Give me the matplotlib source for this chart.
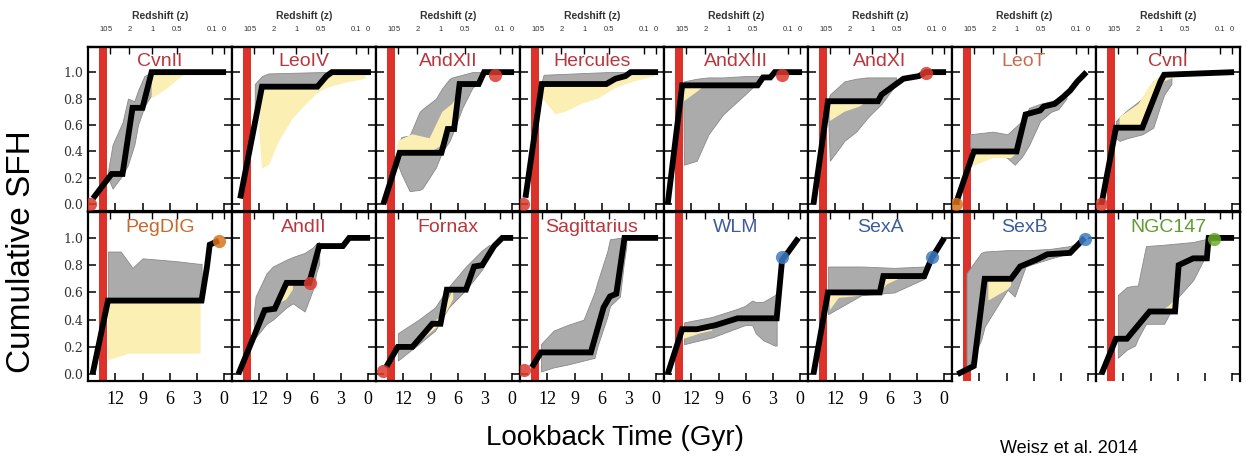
import numpy as np
import matplotlib.pyplot as plt

# galaxy names and title colours
names = ["CvnII", "LeoIV", "AndXII", "Hercules", "AndXIII", "AndXI", "LeoT", "CvnI",
         "PegDIG", "AndII", "Fornax", "Sagittarius", "WLM", "SexA", "SexB", "NGC147"]
red_t, ora_t, blu_t, grn_t = "#b9363c", "#c8682a", "#3d5c9c", "#5f9c30"
name_colors = [red_t, red_t, red_t, red_t, red_t, red_t, "#cc6a4a", red_t,
               ora_t, red_t, red_t, red_t, blu_t, blu_t, blu_t, grn_t]

# best-fit cumulative SFH (lookback time in Gyr, fraction)
best_t = [
    [14.45, 12.4, 11.2, 10.1, 9.0, 8.0, -0.2],
    [14.1, 11.7, 5.6, 4.6, 4.0, -0.3],
    [14.2, 12.4, 7.8, 7.1, 6.4, 5.8, 3.7, 3.1, -0.2],
    [14.4, 12.6, 5.5, 4.5, 3.4, 2.8, -0.2],
    [14.6, 13.0, 4.7, 4.1, 3.3, 2.8, -0.2],
    [14.4, 12.8, 7.3, 6.9, 6.1, 5.3, 4.5, 2.8, 2.0, -0.2],
    [14.6, 12.6, 7.9, 6.9, 5.3, 4.9, 3.7, 2.8, 2.0, 1.2, 0.2],
    [14.4, 12.8, 9.9, 7.9, 7.5, -0.2],
    [14.5, 12.8, 2.5, 1.9, 1.6, 0.6],
    [14.3, 11.4, 10.3, 9.0, 6.5, 5.4, 2.8, 2.1, -0.2],
    [13.9, 12.6, 11.0, 8.8, 7.9, 7.2, 5.1, 4.2, 3.3, 2.0, 1.1, -0.1],
    [13.7, 12.7, 7.2, 5.8, 5.1, 4.4, 3.5, -0.2],
    [14.6, 13.0, 11.4, 9.3, 6.9, 2.6, 2.0, 1.4, 0.2],
    [14.4, 12.8, 7.1, 6.7, 2.2, 1.4, 0.0],
    [14.4, 12.6, 11.4, 8.5, 7.5, 5.7, 4.5, 2.0, 0.4],
    [14.4, 12.8, 11.6, 9.1, 6.3, 5.9, 4.3, 2.8, 2.6, -0.2],
]
best_v = [
    [0.045, 0.23, 0.23, 0.73, 0.73, 1.0, 1.0],
    [0.045, 0.89, 0.89, 0.97, 1.0, 1.0],
    [0.0, 0.39, 0.39, 0.57, 0.57, 0.91, 0.91, 1.0, 1.0],
    [0.05, 0.91, 0.91, 0.95, 0.97, 1.0, 1.0],
    [0.0, 0.90, 0.90, 0.96, 0.96, 1.0, 1.0],
    [0.0, 0.78, 0.78, 0.83, 0.87, 0.91, 0.95, 0.97, 1.0, 1.0],
    [0.0, 0.40, 0.40, 0.68, 0.71, 0.74, 0.76, 0.81, 0.86, 0.93, 1.0],
    [0.0, 0.58, 0.58, 0.93, 0.98, 1.0],
    [0.0, 0.54, 0.54, 0.79, 0.95, 0.98],
    [0.0, 0.47, 0.48, 0.67, 0.67, 0.94, 0.94, 1.0, 1.0],
    [0.05, 0.20, 0.20, 0.37, 0.37, 0.62, 0.62, 0.79, 0.80, 0.94, 1.0, 1.0],
    [0.05, 0.16, 0.16, 0.49, 0.57, 0.59, 1.0, 1.0],
    [0.0, 0.33, 0.33, 0.36, 0.41, 0.41, 0.84, 0.89, 1.0],
    [0.0, 0.60, 0.60, 0.72, 0.72, 0.85, 1.0],
    [0.0, 0.06, 0.70, 0.70, 0.79, 0.84, 0.88, 0.89, 1.0],
    [0.0, 0.26, 0.26, 0.46, 0.46, 0.80, 0.85, 0.85, 1.0, 1.0],
]

# grey uncertainty envelope
grey_t = [
    [12.8, 12.3, 11.2, 10.6, 9.9, 9.5, 8.8, 8.0],
    [12.5, 11.7, 11.0, 5.4, 4.6],
    [12.6, 12.2, 11.3, 10.2, 9.9, 8.4, 7.7, 6.9, 6.6, 5.5, 4.4, 3.3],
    [12.6, 12.4, 5.5, 4.5, 3.0],
    [12.9, 12.8, 11.4, 10.1, 8.5, 6.1, 4.7, 4.1],
    [12.8, 12.6, 11.3, 11.0, 9.7, 8.5, 8.1, 6.9, 5.3],
    [13.0, 10.5, 8.9, 8.1, 7.3, 6.5, 5.3, 4.1, 3.3, 2.4],
    [12.8, 12.4, 11.6, 9.9, 8.7, 7.9, 7.5, 6.7],
    [12.8, 11.4, 10.1, 9.0, 5.4, 2.8, 2.5],
    [12.6, 12.4, 11.2, 10.5, 9.0, 8.3, 7.0, 6.1, 5.7, 5.4],
    [12.6, 10.3, 8.5, 7.0, 5.1, 3.3, 2.5],
    [12.7, 11.3, 9.8, 8.0, 6.8, 6.5, 5.4, 5.1, 4.0, 3.6, 3.3],
    [12.8, 9.7, 6.9, 6.1, 5.3, 4.9, 4.1, 2.8, 2.6],
    [12.8, 9.1, 5.5, 2.2, 1.6],
    [13.4, 11.8, 11.4, 8.9, 8.1, 6.9, 6.5, 4.1, 2.0, 1.0],
    [12.6, 11.6, 10.7, 10.4, 9.5, 7.5, 5.9, 4.3, 3.0, 2.6],
]
grey_lo = [
    [0.20, 0.12, 0.22, 0.30, 0.45, 0.60, 0.74, 0.83],
    [0.60, 0.89, 0.89, 0.89, 0.97],
    [0.30, 0.23, 0.10, 0.11, 0.12, 0.28, 0.40, 0.48, 0.53, 0.73, 0.88, 0.95],
    [0.91, 0.91, 0.91, 0.95, 0.98],
    [0.85, 0.30, 0.33, 0.53, 0.68, 0.83, 0.92, 0.96],
    [0.70, 0.33, 0.45, 0.48, 0.55, 0.65, 0.68, 0.76, 0.91],
    [0.43, 0.40, 0.35, 0.30, 0.36, 0.45, 0.63, 0.70, 0.72, 0.80],
    [0.50, 0.48, 0.50, 0.53, 0.58, 0.75, 0.83, 0.91],
    [0.54, 0.54, 0.54, 0.54, 0.54, 0.54, 0.54],
    [0.30, 0.27, 0.37, 0.40, 0.49, 0.52, 0.46, 0.62, 0.75, 0.81],
    [0.10, 0.22, 0.32, 0.49, 0.62, 0.77, 0.90],
    [0.02, 0.05, 0.07, 0.10, 0.12, 0.20, 0.42, 0.50, 0.57, 0.80, 0.94],
    [0.22, 0.27, 0.34, 0.36, 0.36, 0.30, 0.25, 0.21, 0.21],
    [0.44, 0.58, 0.60, 0.70, 0.82],
    [0.02, 0.25, 0.35, 0.62, 0.57, 0.79, 0.80, 0.85, 0.89, 0.95],
    [0.12, 0.18, 0.21, 0.26, 0.37, 0.37, 0.57, 0.69, 0.86, 0.95],
]
grey_hi = [
    [0.25, 0.45, 0.62, 0.80, 0.78, 0.86, 0.97, 1.0],
    [0.91, 0.97, 0.99, 1.0, 1.0],
    [0.45, 0.51, 0.52, 0.70, 0.72, 0.80, 0.88, 0.95, 0.96, 0.98, 1.0, 1.0],
    [0.93, 0.98, 1.0, 1.0, 1.0],
    [0.90, 0.93, 0.95, 0.96, 0.96, 0.97, 0.97, 0.97],
    [0.78, 0.83, 0.91, 0.93, 0.95, 0.96, 0.96, 0.96, 0.96],
    [0.53, 0.55, 0.53, 0.58, 0.63, 0.73, 0.76, 0.78, 0.80, 0.83],
    [0.63, 0.66, 0.71, 0.80, 0.93, 0.96, 0.98, 0.99],
    [0.90, 0.90, 0.78, 0.85, 0.83, 0.81, 0.81],
    [0.45, 0.57, 0.74, 0.79, 0.84, 0.86, 0.89, 0.93, 0.96, 0.97],
    [0.30, 0.40, 0.49, 0.64, 0.79, 0.91, 0.95],
    [0.22, 0.32, 0.36, 0.40, 0.60, 0.67, 0.90, 0.99, 1.0, 1.0, 1.0],
    [0.38, 0.42, 0.48, 0.50, 0.54, 0.53, 0.53, 0.58, 0.60],
    [0.79, 0.79, 0.78, 0.79, 0.85],
    [0.74, 0.89, 0.90, 0.91, 0.91, 0.91, 0.91, 0.92, 0.94, 0.97],
    [0.58, 0.64, 0.65, 0.65, 0.94, 0.95, 0.96, 0.97, 0.99, 1.0],
]

# yellow (systematic) envelope
yel_t = [
    [8.0, 6.4, 5.0, 4.3],
    [12.0, 11.7, 10.9, 9.8, 8.3, 6.8, 5.6, 4.6, 2.5, 0.3],
    [12.6, 11.0, 9.1, 7.7, 6.6, 5.8],
    [12.5, 11.1, 10.0, 8.2, 6.4, 4.5, 2.4, 0.2],
    [12.8, 11.4, 10.5],
    [12.6, 11.0, 9.3, 8.5],
    [13.0, 10.5, 8.5, 8.0],
    [12.4, 10.3, 9.1, 8.0, 7.5, 6.0],
    [12.8, 10.5, 2.6],
    [9.8, 9.0, 8.3],
    [10.0, 8.0, 6.5],
    [7.2, 6.5, 5.8],
    [12.8, 11.0, 9.7],
    [12.6, 11.6, 10.0, 7.1, 6.3, 5.0],
    [11.0, 8.9, 8.5],
    [8.0, 7.0, 6.3],
]
yel_lo = [
    [0.80, 0.87, 0.95, 0.99],
    [0.55, 0.27, 0.30, 0.48, 0.65, 0.76, 0.84, 0.88, 0.92, 0.95],
    [0.39, 0.39, 0.39, 0.45, 0.57, 0.75],
    [0.80, 0.68, 0.70, 0.76, 0.80, 0.88, 0.93, 0.97],
    [0.78, 0.85, 0.90],
    [0.63, 0.70, 0.74, 0.78],
    [0.28, 0.35, 0.35, 0.38],
    [0.58, 0.58, 0.70, 0.90, 0.93, 0.97],
    [0.10, 0.15, 0.15],
    [0.52, 0.55, 0.62],
    [0.25, 0.36, 0.55],
    [0.16, 0.25, 0.45],
    [0.26, 0.30, 0.32],
    [0.47, 0.56, 0.57, 0.60, 0.66, 0.70],
    [0.54, 0.62, 0.65],
    [0.44, 0.46, 0.50],
]
yel_hi = [
    [1.0, 1.0, 1.0, 1.0],
    [0.60, 0.89, 0.89, 0.89, 0.89, 0.89, 0.89, 0.97, 1.0, 1.0],
    [0.48, 0.53, 0.50, 0.70, 0.76, 0.85],
    [0.91, 0.91, 0.91, 0.91, 0.91, 0.95, 1.0, 1.0],
    [0.90, 0.90, 0.90],
    [0.78, 0.78, 0.78, 0.78],
    [0.40, 0.40, 0.40, 0.40],
    [0.66, 0.76, 0.90, 0.97, 0.99, 1.0],
    [0.54, 0.54, 0.54],
    [0.60, 0.67, 0.67],
    [0.30, 0.42, 0.62],
    [0.22, 0.35, 0.52],
    [0.33, 0.33, 0.36],
    [0.60, 0.60, 0.60, 0.60, 0.72, 0.72],
    [0.70, 0.70, 0.70],
    [0.46, 0.50, 0.55],
]

# circle markers
m_red, m_ora, m_blu, m_grn = "#dc3a2e", "#d9741e", "#3f7cc4", "#6cac2c"
mark_t = [14.8, None, 1.9, 14.7, 2.0, 2.0, 14.6, 14.4,
          0.6, 6.4, 14.2, 14.6, 2.0, 1.3, 0.4, 2.0]
mark_v = [0.0, None, 0.98, 0.0, 0.98, 0.99, 0.0, 0.0,
          0.98, 0.67, 0.02, 0.03, 0.86, 0.86, 0.99, 0.99]
mark_c = [m_red, None, m_red, m_red, m_red, m_red, m_ora, m_red,
          m_ora, m_red, m_red, m_red, m_blu, m_blu, m_blu, m_grn]

# axes decorations
t_ticks = [12, 9, 6, 3, 0]
y_ticks = [0.0, 0.2, 0.4, 0.6, 0.8, 1.0]
z_labels = ["10", "5", "2", "1", "0.5", "0.1", "0"]
z_lookback = [13.32, 12.55, 10.45, 7.93, 5.19, 1.34, 0.0]
reion = (12.9, 13.8)

W, H = 1246, 459
fig = plt.figure(figsize=(W / 100, H / 100), dpi=100)

for i in range(16):
    row, col = divmod(i, 8)
    x0 = 88 + col * 144
    y_top, y_bot = (47, 211) if row == 0 else (212, 381)
    ax = fig.add_axes([x0 / W, 1 - y_bot / H, 144 / W, (y_bot - y_top) / H])

    ax.axvspan(reion[0], reion[1], color="#dd3229", lw=0, zorder=0.5)
    ax.fill_between(grey_t[i], grey_lo[i], grey_hi[i], facecolor="#ababab",
                    edgecolor="#8a8a8a", lw=0.6, zorder=1)
    ax.fill_between(yel_t[i], yel_lo[i], yel_hi[i], facecolor="#fbefb3",
                    lw=0, zorder=1.2)
    ax.plot(best_t[i], best_v[i], color="k", lw=4.2, solid_joinstyle="miter",
            solid_capstyle="butt", zorder=2)
    if mark_c[i] is not None:
        ax.plot(mark_t[i], mark_v[i], "o", ms=9.5, color=mark_c[i], mec="none",
                alpha=0.85, zorder=3)

    ax.text(0.5, 0.91, names[i], transform=ax.transAxes, ha="center", va="center",
            fontsize=14, color=name_colors[i], family="Liberation Sans", zorder=4,
            clip_on=False)

    ax.set_xlim(15.0, -0.85)
    ax.set_ylim(-0.05, 1.19)
    for s in ax.spines.values():
        s.set_linewidth(1.6)

    ax.set_xticks(t_ticks)
    ax.set_yticks(y_ticks)
    ax.tick_params(axis="both", direction="in", length=6, width=1.1,
                   left=True, right=True, bottom=True, top=False)
    if col == 0:
        ax.set_yticklabels(["%.1f" % v for v in y_ticks], family="DejaVu Serif",
                           fontsize=9, color="#333333")
    else:
        ax.set_yticklabels([])
    if row == 1 and col < 6:
        ax.set_xticklabels([str(t) for t in t_ticks], family="Liberation Serif",
                           fontsize=13)
        ax.tick_params(axis="x", pad=7)
    else:
        ax.set_xticklabels([])
    if row == 1 and col >= 6:
        ax.spines["bottom"].set_visible(False)

    sec = ax.secondary_xaxis("top")
    sec.set_xticks(z_lookback)
    sec.tick_params(direction="in", length=5, width=1.0)
    sec.spines["top"].set_linewidth(1.6)
    if row == 0:
        sec.set_xticklabels(z_labels, fontsize=5.5, color="#333333",
                            family="Liberation Sans")
        sec.tick_params(pad=10)
        sec.set_xlabel("Redshift (z)", fontsize=7.5, fontweight="bold",
                       color="#333333", labelpad=5, family="Liberation Sans")
    else:
        sec.set_xticklabels([])

fig.text(22 / W, 1 - 252 / H, "Cumulative SFH", rotation=90, ha="center",
         va="center", fontsize=24, family="Liberation Sans")
fig.text(615 / W, 1 - 438 / H, "Lookback Time (Gyr)", ha="center", va="center",
         fontsize=20, family="Liberation Sans")
fig.text(1000 / W, 1 - 457 / H, "Weisz et al. 2014", ha="left", va="bottom",
         fontsize=13, family="Liberation Sans")

fig.savefig("out.png", dpi=100)
